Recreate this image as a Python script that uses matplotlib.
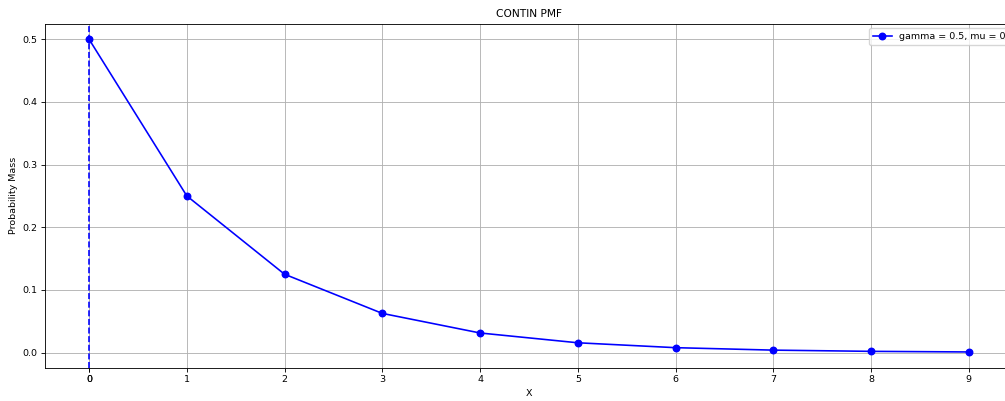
import matplotlib.pyplot as plt
import numpy as np

# data
x_vals = [0, 1, 2, 3, 4, 5, 6, 7, 8, 9]
pmf = [0.5, 0.25, 0.125, 0.0625, 0.03125, 0.015625, 0.0078125, 0.00390625, 0.00195, 0.00098]
gamma = 0.5
mu = 0

s = 0.78   # reference looks like a downscaled larger figure
plt.rcParams.update({'font.size': 6.8,
                     'axes.titlesize': 7.7,
                     'lines.linewidth': 1.5 * s,
                     'lines.markersize': 6 * s,
                     'axes.linewidth': 0.8 * s,
                     'grid.linewidth': 0.8 * s,
                     'xtick.major.size': 3.5 * s,
                     'ytick.major.size': 3.5 * s,
                     'xtick.major.width': 0.8 * s,
                     'ytick.major.width': 0.8 * s,
                     'xtick.major.pad': 3.5 * s,
                     'ytick.major.pad': 3.5 * s,
                     'axes.labelpad': 4 * s,
                     'axes.titlepad': 6 * s,
                     })

fig = plt.figure(figsize=(10.05, 4.01), dpi=100)
ax = fig.add_axes([0.0448, 0.0833, 0.963, 0.858])

ax.plot(x_vals, pmf, marker="o", color="blue", label=f"gamma = {gamma}, mu = {mu}")
ax.axvline(mu, color="blue", ls="--")

ax.set_xticks(list(x_vals) + [mu])
ax.set_title("CONTIN PMF")
ax.set_xlabel("X")
ax.set_ylabel("Probability Mass")
ax.grid(True)
ax.legend(loc="upper left", bbox_to_anchor=(0.8464, 1.0))

fig.savefig("out.png", dpi=100)
